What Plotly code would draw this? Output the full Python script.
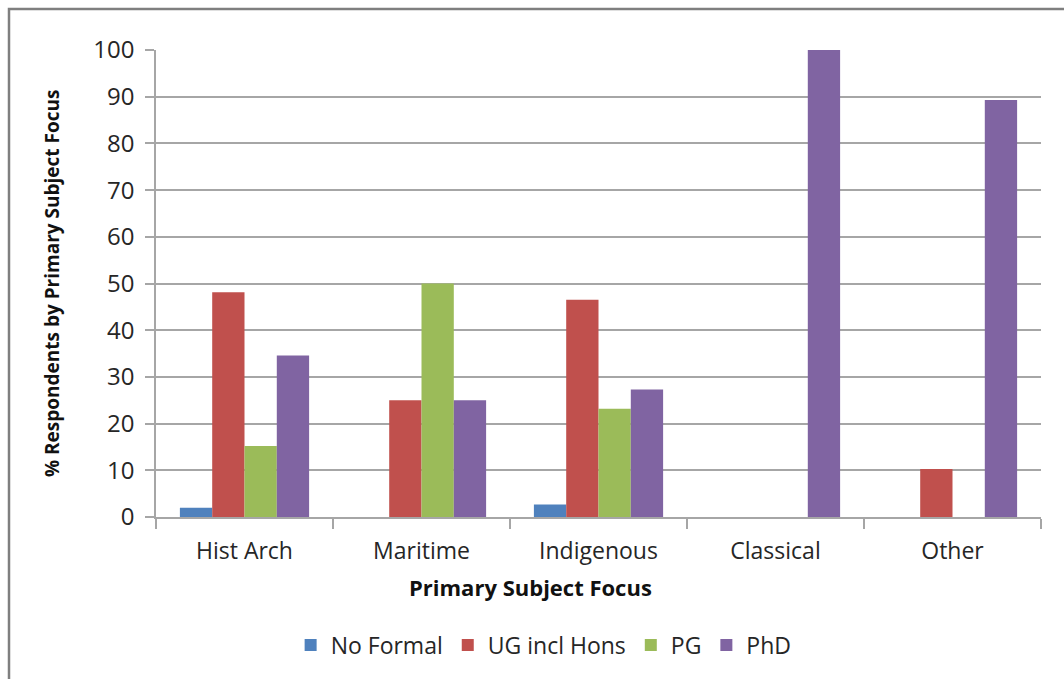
import plotly.graph_objects as go

categories = ["Hist Arch", "Maritime", "Indigenous", "Classical", "Other"]
no_formal = [2.0, 0, 2.7, 0, 0]
ug_incl_hons = [48.1, 25.0, 46.5, 0, 10.3]
pg = [15.2, 50.0, 23.2, 0, 0]
phd = [34.6, 25.0, 27.3, 100.0, 89.3]
y_ticks = [0, 10, 20, 30, 40, 50, 60, 70, 80, 90, 100]

series = [
    ("No Formal", no_formal, "#4F81BD"),
    ("UG incl Hons", ug_incl_hons, "#C0504D"),
    ("PG", pg, "#9BBB59"),
    ("PhD", phd, "#8064A2"),
]

W, H = 1064, 679
L, R, T, B = 156, 23, 50, 162
pw, ph = W - L - R, H - T - B


def px_x(p):
    return (p - L) / pw


def px_y(p):
    return (H - B - p) / ph


font_family = "'Open Sans', Lato, sans-serif"
txt = "#262626"

fig = go.Figure()
for name, vals, col in series:
    fig.add_trace(go.Bar(
        x=categories, y=vals, name=name,
        marker=dict(color=col, line=dict(width=0)),
    ))

fig.update_layout(
    width=W, height=H,
    margin=dict(l=L, r=R, t=T, b=B),
    paper_bgcolor="white", plot_bgcolor="white",
    barmode="group", bargap=0.27, bargroupgap=0,
    font=dict(family=font_family, size=20, color=txt),
    showlegend=True,
    legend=dict(
        orientation="h", x=0.438, xanchor="center",
        y=px_y(645), yanchor="middle",
        font=dict(size=23, color=txt),
        itemwidth=30, tracegroupgap=0,
    ),
    xaxis=dict(
        type="category",
        showline=True, linecolor="#a6a6a6", linewidth=1.5,
        ticks="outside", tickson="boundaries", ticklen=10,
        tickcolor="#a6a6a6", tickwidth=1.5,
        tickfont=dict(size=23, color=txt),
        ticklabelstandoff=13,
        showgrid=False, fixedrange=True,
    ),
    yaxis=dict(
        range=[0, 100], tickvals=y_ticks,
        showline=True, linecolor="#a6a6a6", linewidth=1.5,
        ticks="outside", ticklen=9, tickcolor="#a6a6a6", tickwidth=1.5,
        showgrid=True, gridcolor="#a6a6a6", gridwidth=1.5,
        zeroline=False,
        tickfont=dict(size=24, color=txt),
        ticklabelstandoff=6,
        fixedrange=True,
    ),
    annotations=[
        dict(text="<b>Primary Subject Focus</b>", xref="paper", yref="paper",
             x=px_x(530), y=px_y(587), xanchor="center", yanchor="middle",
             showarrow=False, font=dict(size=22, color="#111")),
        dict(text="<b>% Respondents by Primary Subject Focus</b>", xref="paper",
             yref="paper", x=px_x(52), y=px_y(284), xanchor="center",
             yanchor="middle", textangle=-90, showarrow=False,
             font=dict(size=19, color="#111")),
    ],
    shapes=[
        dict(type="rect", xref="paper", yref="paper",
             x0=px_x(9), y0=px_y(700), x1=px_x(1080), y1=px_y(9),
             line=dict(color="#7f7f7f", width=2.5), fillcolor="rgba(0,0,0,0)",
             layer="below"),
    ],
)

fig.write_html("out.html")
